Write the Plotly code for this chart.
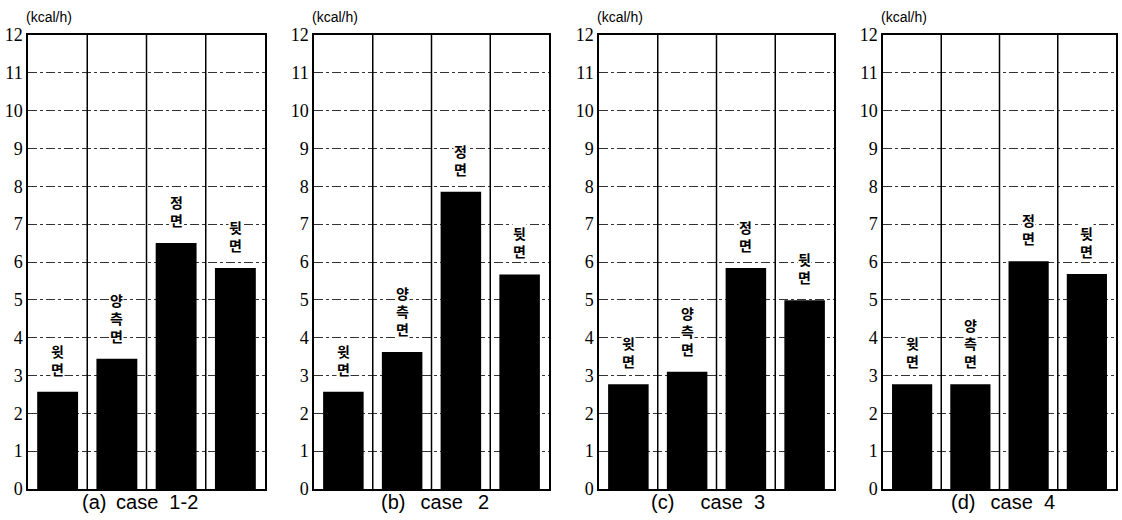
import plotly.graph_objects as go

categories = ["윗면", "양측면", "정면", "뒷면"]
case_titles = [
    "(a)\u00a0\u2009case\u00a0\u00a01-2",
    "(b)\u00a0\u00a0\u2009case\u00a0\u00a0\u20092",
    "(c)\u00a0\u00a0\u00a0\u00a0\u2009case\u00a0\u00a03",
    "(d)\u00a0\u00a0\u2009case\u00a0\u00a04",
]
values_a = [2.57, 3.44, 6.50, 5.84]
values_b = [2.57, 3.62, 7.86, 5.67]
values_c = [2.77, 3.10, 5.84, 4.99]
values_d = [2.77, 2.77, 6.02, 5.68]
y_ticks = list(range(0, 13))
unit_label = "(kcal/h)"

all_values = [values_a, values_b, values_c, values_d]

W, H = 1122, 520
panel_px = [(28, 265), (314, 549), (599, 834), (883, 1116)]
title_cx = [140, 435, 708, 1003]
top_px, bot_px = 35, 489
ydom = [1 - bot_px / H, 1 - top_px / H]
LABEL_GAP = 12  # px between bar top and label bottom

fig = go.Figure()
annotations = []
shapes = []

for i, vals in enumerate(all_values):
    n = "" if i == 0 else str(i + 1)
    xa, ya = "x" + n, "y" + n
    fig.add_trace(go.Bar(
        x=categories, y=vals, xaxis=xa, yaxis=ya,
        marker=dict(color="black", line=dict(width=0)),
        showlegend=False, hoverinfo="skip",
    ))
    l, r = panel_px[i]
    xdom = [l / W, r / W]
    fig.update_layout(**{
        "xaxis" + n: dict(
            domain=xdom, anchor=ya, type="category",
            categoryorder="array", categoryarray=categories,
            range=[-0.5, 3.5], showticklabels=False, showgrid=False,
            showline=True, linecolor="black", linewidth=1.5, mirror=True,
            ticks="", zeroline=False, fixedrange=True, automargin=False,
        ),
        "yaxis" + n: dict(
            domain=ydom, anchor=xa, range=[0, 12],
            tickvals=y_ticks, ticktext=[str(t) for t in y_ticks],
            tickfont=dict(family="Liberation Serif", size=18, color="black"),
            showgrid=True, gridcolor="#333", gridwidth=1, griddash="dashdot",
            showline=True, linecolor="black", linewidth=1.5, mirror=True,
            ticks="", zeroline=False, fixedrange=True, automargin=False,
            ticklabelstandoff=0,
        ),
    })
    # separators between category slots
    for k in range(1, len(categories)):
        shapes.append(dict(
            type="line", xref=xa, yref=ya + " domain",
            x0=k - 0.5, x1=k - 0.5, y0=0, y1=1,
            line=dict(color="black", width=1.5), layer="above",
        ))
    # vertical stacked labels above bars
    for c, v in zip(categories, vals):
        annotations.append(dict(
            x=c, y=v, xref=xa, yref=ya, yanchor="bottom", yshift=LABEL_GAP,
            text="<b>" + "<br>".join(list(c)) + "</b>", showarrow=False,
            font=dict(family="Noto Sans CJK KR", size=14, color="black"),
            bgcolor="white", borderpad=0,
        ))
    # unit label
    annotations.append(dict(
        x=(l - 4) / W, y=1 - 17 / H, xref="paper", yref="paper",
        xanchor="left", yanchor="middle", text=unit_label, showarrow=False,
        font=dict(family="Liberation Sans", size=14, color="black"),
    ))
    # case title
    annotations.append(dict(
        x=title_cx[i] / W, y=1 - 502 / H, xref="paper", yref="paper",
        xanchor="center", yanchor="middle", text=case_titles[i], showarrow=False,
        font=dict(family="Liberation Sans", size=20, color="black"),
    ))

fig.update_layout(
    width=W, height=H, margin=dict(l=0, r=0, t=0, b=0, autoexpand=False),
    paper_bgcolor="white", plot_bgcolor="white",
    bargap=0.31, annotations=annotations, shapes=shapes,
)

fig.write_html("out.html", config={"displayModeBar": False},
               post_script="document.body.style.margin='0';")
